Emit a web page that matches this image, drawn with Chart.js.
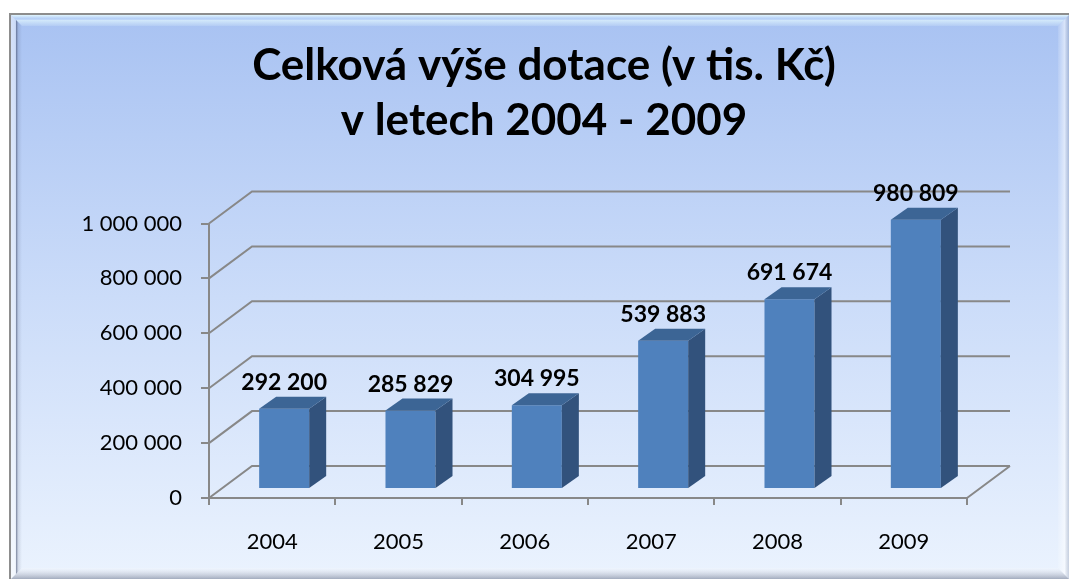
<!DOCTYPE html>
<html lang="cs">
<head>
<meta charset="utf-8">
<title>Celková výše dotace</title>
<script src="https://cdn.jsdelivr.net/npm/chart.js@4.4.0/dist/chart.umd.min.js"></script>
<style>
    html, body { margin: 0; padding: 0; background: #fff; overflow: hidden; }
    #wrap { position: absolute; left: 0; top: 0; width: 1069px; height: 579px; }
</style>
</head>
<body>
<div id="wrap"><canvas id="dotace" width="1069" height="579"></canvas></div>

<script>
    /* Data (thousands of CZK) */
    const years = ['2004', '2005', '2006', '2007', '2008', '2009'];
    const amounts = [292200, 285829, 304995, 539883, 691674, 980809];
    const axisSteps = [0, 200000, 400000, 600000, 800000, 1000000];
    const titleLines = ['Celková výše dotace (v tis. Kč)', 'v letech 2004 - 2009'];

    /* fake 3D: back wall offset, where the bars sit in depth and how deep they are */
    const wall = { x: 43, y: -32 };
    const barShift = { x: 12, y: -9 };
    const barDepth = { x: 17, y: -12 };
    const lineGray = '#888888';

    function spaced(v){
        return String(v).replace(/\B(?=(\d{3})+(?!\d))/g, ' ');
    }

    function poly(ctx, pts, fill){
        ctx.beginPath();
        ctx.moveTo(pts[0][0], pts[0][1]);
        for(let i = 1; i < pts.length; i++){
            ctx.lineTo(pts[i][0], pts[i][1]);
        }
        ctx.closePath();
        ctx.fillStyle = fill;
        ctx.fill();
    }

    /* Blue bevelled panel behind everything */
    const framePlugin = {
        id: 'frame',
        beforeDraw(chart){
            const ctx = chart.ctx;
            const L = 9, T = 13, R = 1071, B = 581, bev = 11;
            ctx.save();
            ctx.fillStyle = '#8d8d8d';
            ctx.fillRect(L, T, R - L, B - T);
            const g = ctx.createLinearGradient(0, T, 0, B);
            g.addColorStop(0, '#a8c2f2');
            g.addColorStop(0.5, '#cbdcf9');
            g.addColorStop(1, '#ebf3fe');
            ctx.fillStyle = g;
            ctx.fillRect(L + 2, T + 2, R - L - 4, B - T - 4);

            const il = L + 2, it = T + 2, ir = R - 2, ib = B - 2;
            let gt = ctx.createLinearGradient(0, it, 0, it + bev);
            gt.addColorStop(0, 'rgba(235,255,255,0.85)');
            gt.addColorStop(0.35, 'rgba(200,225,255,0.4)');
            gt.addColorStop(0.5, 'rgba(235,255,255,0.6)');
            gt.addColorStop(1, 'rgba(235,255,255,0.15)');
            poly(ctx, [[il, it], [ir, it], [ir - bev, it + bev], [il + bev, it + bev]], gt);

            let gl = ctx.createLinearGradient(il, 0, il + bev, 0);
            gl.addColorStop(0, 'rgba(255,255,255,0.5)');
            gl.addColorStop(0.4, 'rgba(255,255,255,0.4)');
            gl.addColorStop(0.5, 'rgba(70,80,110,0.55)');
            gl.addColorStop(0.65, 'rgba(70,80,110,0.15)');
            gl.addColorStop(1, 'rgba(70,80,110,0)');
            poly(ctx, [[il, it], [il + bev, it + bev], [il + bev, ib - bev], [il, ib]], gl);

            let gr = ctx.createLinearGradient(ir - bev, 0, ir, 0);
            gr.addColorStop(0, 'rgba(255,255,255,0.1)');
            gr.addColorStop(0.6, 'rgba(255,255,255,0.55)');
            gr.addColorStop(1, 'rgba(150,160,180,0.4)');
            poly(ctx, [[ir, it], [ir, ib], [ir - bev, ib - bev], [ir - bev, it + bev]], gr);

            let gb = ctx.createLinearGradient(0, ib - bev, 0, ib);
            gb.addColorStop(0, 'rgba(255,255,255,0.2)');
            gb.addColorStop(1, 'rgba(90,100,125,0.5)');
            poly(ctx, [[il, ib], [il + bev, ib - bev], [ir - bev, ib - bev], [ir, ib]], gb);
            ctx.restore();
        }
    };

    /* Two-line title, centred over the whole panel */
    const titlePlugin = {
        id: 'panelTitle',
        afterDraw(chart){
            const ctx = chart.ctx;
            ctx.save();
            ctx.font = 'bold 44px Lato';
            ctx.fillStyle = '#000';
            ctx.textAlign = 'center';
            ctx.textBaseline = 'alphabetic';
            titleLines.forEach((line, i) => ctx.fillText(line, 544, 80 + i * 55));
            ctx.restore();
        }
    };

    /* Back wall grid, side wall, floor edge, then bars pushed back with side and top faces */
    const depthPlugin = {
        id: 'depth',
        beforeDatasetsDraw(chart){
            const ctx = chart.ctx;
            const area = chart.chartArea;
            const yScale = chart.scales.y;
            ctx.save();
            ctx.strokeStyle = lineGray;
            ctx.lineWidth = 2;
            ctx.beginPath();
            for(let v of axisSteps){
                const y = yScale.getPixelForValue(v);
                ctx.moveTo(area.left, y);
                ctx.lineTo(area.left + wall.x, y + wall.y);
                ctx.lineTo(area.right + wall.x, y + wall.y);
            }
            ctx.moveTo(area.right, area.bottom);
            ctx.lineTo(area.right + wall.x, area.bottom + wall.y);
            ctx.stroke();
            ctx.restore();

            ctx.save();
            ctx.translate(barShift.x, barShift.y);
        },
        afterDatasetsDraw(chart){
            const ctx = chart.ctx;
            const bars = chart.getDatasetMeta(0).data;
            bars.forEach((bar) => {
                const p = bar.getProps(['x', 'y', 'base', 'width'], true);
                const x1 = p.x - p.width / 2, x2 = p.x + p.width / 2;
                poly(ctx, [[x2, p.y], [x2 + barDepth.x, p.y + barDepth.y],
                    [x2 + barDepth.x, p.base + barDepth.y], [x2, p.base]], '#32527c');
                poly(ctx, [[x1, p.y], [x2, p.y], [x2 + barDepth.x, p.y + barDepth.y],
                    [x1 + barDepth.x, p.y + barDepth.y]], '#3c6595');
            });
            ctx.restore();

            // value labels above each bar
            ctx.save();
            ctx.font = 'bold 23px Lato';
            ctx.fillStyle = '#000';
            ctx.textAlign = 'center';
            ctx.textBaseline = 'alphabetic';
            bars.forEach((bar, i) => {
                const p = bar.getProps(['x', 'y'], true);
                ctx.fillText(spaced(amounts[i]), p.x + barShift.x, p.y + barShift.y + barDepth.y - 7);
            });
            ctx.restore();
        }
    };

    const ctx = document.getElementById('dotace').getContext('2d');

    const chart = new Chart(ctx, {
        type: 'bar',
        data: {
            labels: years,
            datasets: [{
                label: 'Dotace',
                data: amounts,
                backgroundColor: '#4f81bd',
                borderWidth: 0,
                categoryPercentage: 1,
                barPercentage: 0.396,
                clip: false
            }]
        },
        options: {
            responsive: false,
            devicePixelRatio: 1,
            animation: false,
            layout: {
                padding: { left: 40, right: 102, top: 223.5, bottom: 0 }
            },
            plugins: {
                legend: { display: false },
                tooltip: { enabled: false },
                title: { display: false }
            },
            scales: {
                x: {
                    grid: { offset: true, drawOnChartArea: false, tickLength: 7, color: lineGray, lineWidth: 2 },
                    border: { color: lineGray, width: 2 },
                    ticks: { color: '#000', font: { family: 'Lato', size: 22 }, padding: 24 },
                    afterFit(scale){ scale.height = 81; }
                },
                y: {
                    min: 0,
                    max: 1000000,
                    grid: { drawOnChartArea: false, tickLength: 8, color: lineGray, lineWidth: 2 },
                    border: { color: lineGray, width: 2 },
                    ticks: {
                        color: '#000',
                        font: { family: 'Lato', size: 22 },
                        padding: 19,
                        callback: (v) => spaced(v)
                    },
                    afterBuildTicks(scale){ scale.ticks = axisSteps.map(v => ({ value: v })); },
                    afterFit(scale){ scale.width = 169; }
                }
            }
        },
        plugins: [framePlugin, titlePlugin, depthPlugin]
    });
</script>
</body>
</html>
